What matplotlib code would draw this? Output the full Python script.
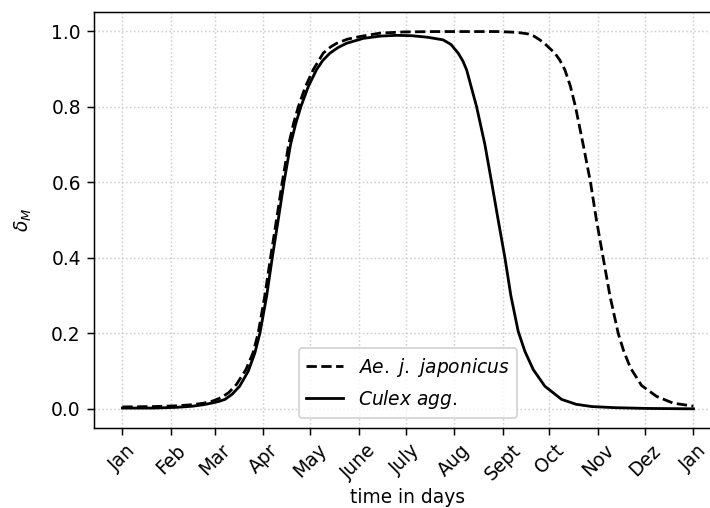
import matplotlib
matplotlib.use("Agg")
import matplotlib.pyplot as plt

# month ticks (day of year) and labels
month_days = [0, 31, 59, 90, 120, 151, 181, 212, 243, 273, 304, 334, 365]
month_labels = ['Jan', 'Feb', 'Mar', 'Apr', 'May', 'June', 'July', 'Aug',
                'Sept', 'Oct', 'Nov', 'Dez', 'Jan']

# Ae. j. japonicus (dashed)
aej_days = [0, 20, 35, 45, 52, 58, 63.4, 68, 73, 79, 83.5, 86.8, 91, 94.7,
            98.5, 102.2, 106.3, 109.5, 112.5, 117, 122, 128.4, 133, 137, 144,
            152, 165, 180, 200, 240, 252, 259, 263, 266.8, 270, 273, 276.4,
            279.5, 282.8, 286.3, 289.6, 294.5, 299.2, 303, 307.3, 311.6,
            316.9, 320.5, 324.8, 331.8, 341.4, 352, 365]
aej_delta = [0.005, 0.006, 0.008, 0.011, 0.015, 0.021, 0.03, 0.043, 0.065,
             0.104, 0.148, 0.2, 0.298, 0.4, 0.5, 0.6, 0.7, 0.757, 0.8, 0.853,
             0.898, 0.942, 0.958, 0.968, 0.979, 0.986, 0.995, 0.998, 0.999,
             0.999, 0.997, 0.993, 0.987, 0.977, 0.967, 0.955, 0.942, 0.924,
             0.898, 0.855, 0.8, 0.7, 0.6, 0.5, 0.4, 0.3, 0.2, 0.152, 0.108,
             0.062, 0.033, 0.015, 0.007]

# Culex agg. (solid)
culex_days = [0, 20, 35, 45, 52, 58, 62, 65.6, 70, 75, 80.5, 84.7, 87.9,
              92.2, 95.8, 99.6, 103.3, 107.5, 110.8, 114.1, 118.8, 124.1,
              128, 132.7, 138, 143.3, 154, 165, 175, 185, 195, 205, 210,
              214.6, 217.5, 220, 226.4, 231.7, 236, 240.2, 244.5, 248.3, 253,
              257.3, 262.6, 270, 280.7, 290, 300, 315, 335, 365]
culex_delta = [0.002, 0.002, 0.004, 0.007, 0.011, 0.016, 0.02, 0.025, 0.038,
               0.06, 0.1, 0.148, 0.2, 0.298, 0.4, 0.5, 0.6, 0.7, 0.755, 0.8,
               0.853, 0.898, 0.922, 0.942, 0.957, 0.968, 0.981, 0.987, 0.989,
               0.988, 0.984, 0.977, 0.965, 0.942, 0.922, 0.898, 0.8, 0.7, 0.6,
               0.5, 0.4, 0.3, 0.205, 0.152, 0.104, 0.06, 0.025, 0.012, 0.006,
               0.003, 0.001, 0.0]

dpi = 134
fig = plt.figure(figsize=(710 / dpi, 508 / dpi), dpi=dpi)
# axes runs past the right edge, like the cropped original
ax = fig.add_axes([93.8 / 710, (508 - 427.7) / 508,
                   (722 - 93.8) / 710, (427.7 - 12.3) / 508])

ax.plot(aej_days, aej_delta, color='black', ls='--', lw=1.5,
        label=r'$Ae.\ j.\ japonicus$')
ax.plot(culex_days, culex_delta, color='black', ls='-', lw=1.5,
        label=r'$Culex\ agg.$')

ax.set_xlim(-18.25, 383.25)
ax.set_ylim(-0.05, 1.05)
ax.set_xticks(month_days)
ax.set_xticklabels(month_labels, rotation=45)
ax.set_yticks([0.0, 0.2, 0.4, 0.6, 0.8, 1.0])
ax.grid(True, ls=':', color='#cccccc', lw=0.8)
ax.set_xlabel('time in days', labelpad=2)
ax.set_ylabel(r'$\delta_M$', labelpad=9)
ax.legend(loc='lower center')

fig.savefig('out.png', dpi=dpi)
